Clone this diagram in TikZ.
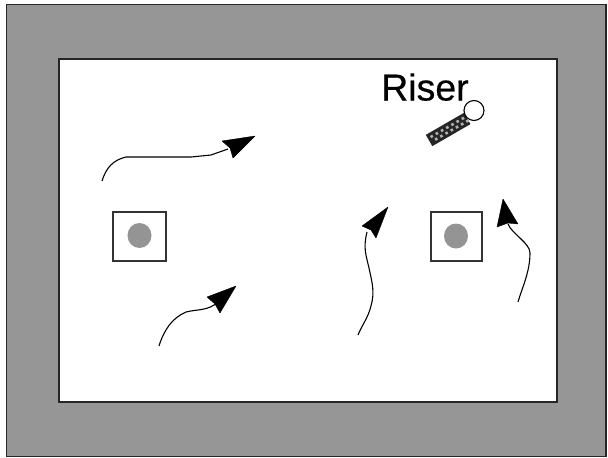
\documentclass[tikz,border=0pt]{standalone}
\usepackage{fontspec}
\setmainfont{Liberation Sans}
\newfontfamily\riserfont[FakeBold=0.4]{Liberation Sans}
\begin{document}
\begin{tikzpicture}[x=1pt,y=-1pt,
  frame/.style={draw=black!85,line width=1.3pt},
  flow/.style={draw=black,line width=1.1pt,line join=round},
  head/.style={fill=black,draw=black,line width=.4pt,line join=round},
  cell/.style={draw=black!80,line width=1.2pt,fill=white},
  spot/.style={fill=black!42,draw=none}]
\useasboundingbox (0,0) rectangle (608,458);
\fill[white] (0,0) rectangle (608,458);
\draw[frame,fill=black!41] (6.5,4.5) rectangle (606,456.5);
\draw[frame,fill=white] (59,59) rectangle (557,402);
% wells
\draw[cell] (113,212) rectangle (166,261);
\fill[spot] (139.5,235.5) ellipse (12 and 12.5);
\draw[cell] (431,212) rectangle (482,261);
\fill[spot] (456,236) ellipse (12 and 12.5);
% flow arrows
\draw[flow] (102,181) .. controls (106,168) and (113,160) .. (126,157) -- (191,157) -- (211,155) -- (228,149);
\fill[head] (255,136) -- (222,141) -- (230,148) -- (233,158) -- cycle;
\draw[flow] (159,346) .. controls (164,330) and (172,318) .. (186,312) .. controls (198,309) and (208,311) .. (218,302);
\fill[head] (236,286) -- (207,297) -- (215,304) -- (220,313) -- cycle;
\draw[flow] (358,335) .. controls (362,325) and (368,318) .. (371,306) .. controls (375,292) and (372,282) .. (369,268) .. controls (366,255) and (363,248) .. (367,232);
\fill[head] (388,207) -- (362,226) -- (371,230) -- (376,238) -- cycle;
\draw[flow] (518,302) .. controls (522,288) and (530,272) .. (530,253) .. controls (530,243) and (512,234) .. (508,224);
\fill[head] (503,199) -- (497,227) -- (508,223) -- (518,224) -- cycle;
% riser
\node[anchor=base west,inner sep=0pt,font=\riserfont\fontsize{37.5}{37.5}\selectfont] (label) at (381,100.5) {Riser};
\begin{scope}[shift={(449,129)},rotate=30]
  \fill[black!85] (-23,-6.5) rectangle (21,6.5);
  \foreach \p in {-20,-14,...,19}{
    \fill[white!70!black] (\p,-3.5) rectangle ++(2.6,2.6);
    \fill[white!70!black] (\p+2.6,1) rectangle ++(2.6,2.6);
  }
\end{scope}
\draw[draw=black,line width=1.1pt,fill=white] (474,110.5) circle (10);
\end{tikzpicture}
\end{document}
